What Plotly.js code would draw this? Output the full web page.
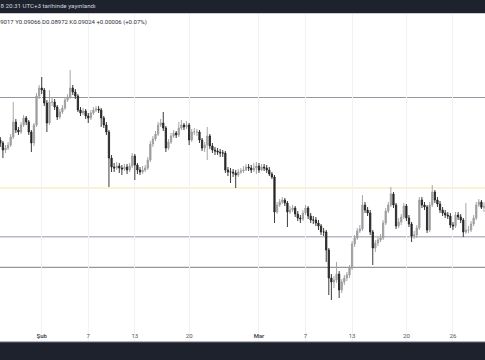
<!DOCTYPE html>
<html><head><meta charset="utf-8">
<script src="https://cdn.plot.ly/plotly-3.0.1.min.js"></script>
<style>html,body{margin:0;padding:0;background:#fff;}#chart{width:485px;height:360px;}</style>
</head><body><div id="chart"></div>
<script>
// 8-hour candles, first candle 2018-01-26 16:00
const firstCandleUTC = Date.UTC(2018, 0, 26, 16);
const candleHours = 8;

const open = [
0.0969,0.0966,0.0959,0.0961,0.0964,0.0972,0.0987,0.0979,0.0977,0.0984,
0.0991,0.0987,0.0977,0.0966,0.0984,0.1013,0.1021,0.1019,0.1006,0.0986,
0.1007,0.1007,0.1002,0.0992,0.0997,0.1001,0.1009,0.1012,0.1021,0.1017,
0.1013,0.0999,0.0996,0.0998,0.0993,0.0991,0.0996,0.0999,0.1000,0.0999,
0.0991,0.0984,0.0977,0.0951,0.0942,0.0941,0.0943,0.0941,0.0940,0.0942,
0.0939,0.0943,0.0953,0.0944,0.0939,0.0937,0.0939,0.0941,0.0949,0.0965,
0.0970,0.0975,0.0984,0.0986,0.0981,0.0961,0.0967,0.0973,0.0976,0.0974,
0.0981,0.0984,0.0982,0.0984,0.0969,0.0977,0.0977,0.0977,0.0969,0.0961,
0.0964,0.0973,0.0963,0.0959,0.0958,0.0957,0.0956,0.0956,0.0939,0.0937,
0.0937,0.0936,0.0934,0.0937,0.0938,0.0939,0.0942,0.0941,0.0939,0.0941,
0.0943,0.0939,0.0942,0.0941,0.0939,0.0935,0.0932,0.0897,0.0904,0.0907,
0.0909,0.0906,0.0897,0.0899,0.0901,0.0895,0.0891,0.0890,0.0896,0.0901,
0.0893,0.0889,0.0889,0.0886,0.0883,0.0877,0.0877,0.0859,0.0831,0.0827,
0.0829,0.0835,0.0819,0.0827,0.0831,0.0834,0.0841,0.0865,0.0871,0.0878,
0.0880,0.0904,0.0899,0.0896,0.0877,0.0861,0.0866,0.0869,0.0871,0.0886,
0.0898,0.0904,0.0915,0.0904,0.0883,0.0887,0.0892,0.0903,0.0891,0.0885,
0.0873,0.0874,0.0881,0.0909,0.0904,0.0902,0.0879,0.0904,0.0917,0.0909,
0.0905,0.0899,0.0896,0.0894,0.0893,0.0884,0.0883,0.0894,0.0892,0.0889,
0.0877,0.0879,0.0879,0.0885,0.0891,0.0904,0.0907,0.09017];

const high = [
0.0972,0.0968,0.0964,0.0967,0.0975,0.1007,0.0990,0.0982,0.0987,0.0994,
0.0993,0.0989,0.0979,0.0986,0.1016,0.1024,0.1032,0.1021,0.1009,0.1019,
0.1011,0.1010,0.1004,0.1000,0.1004,0.1012,0.1015,0.1039,0.1024,0.1020,
0.1015,0.1002,0.1001,0.1000,0.0996,0.0999,0.1002,0.1003,0.1003,0.1001,
0.0993,0.0987,0.0979,0.0954,0.0946,0.0947,0.0946,0.0944,0.0945,0.0945,
0.0946,0.0956,0.0955,0.0946,0.0942,0.0943,0.0944,0.0952,0.0968,0.0973,
0.0978,0.0987,0.0990,0.0997,0.0983,0.0970,0.0976,0.0979,0.0978,0.0987,
0.0989,0.0986,0.0988,0.0986,0.0980,0.0981,0.0980,0.0979,0.0971,0.0967,
0.0982,0.0975,0.0966,0.0962,0.0961,0.0960,0.0959,0.0958,0.0942,0.0941,
0.0940,0.0939,0.0940,0.0941,0.0943,0.0945,0.0945,0.0944,0.0946,0.0947,
0.0946,0.0945,0.0945,0.0944,0.0942,0.0937,0.0934,0.0907,0.0910,0.0912,
0.0911,0.0908,0.0903,0.0904,0.0903,0.0898,0.0894,0.0899,0.0904,0.0903,
0.0896,0.0893,0.0892,0.0889,0.0885,0.0881,0.0879,0.0861,0.0835,0.0833,
0.0847,0.0838,0.0830,0.0834,0.0837,0.0844,0.0868,0.0874,0.0881,0.0884,
0.0914,0.0907,0.0902,0.0899,0.0879,0.0869,0.0872,0.0875,0.0889,0.0901,
0.0907,0.0922,0.0917,0.0906,0.0891,0.0895,0.0906,0.0905,0.0894,0.0887,
0.0878,0.0884,0.0912,0.0912,0.0907,0.0904,0.0907,0.0924,0.0919,0.0912,
0.0908,0.0902,0.0899,0.0897,0.0896,0.0887,0.0897,0.0897,0.0895,0.0891,
0.0906,0.0883,0.0888,0.0894,0.0907,0.0910,0.0909,0.09066];

const low = [
0.0962,0.0951,0.0956,0.0959,0.0962,0.0970,0.0976,0.0974,0.0975,0.0982,
0.0984,0.0974,0.0957,0.0963,0.0982,0.1010,0.1015,0.1003,0.0977,0.0984,
0.1003,0.0999,0.0989,0.0990,0.0995,0.0999,0.1007,0.1010,0.1014,0.1010,
0.0997,0.0993,0.0994,0.0990,0.0986,0.0989,0.0994,0.0997,0.0996,0.0982,
0.0981,0.0974,0.0922,0.0937,0.0937,0.0939,0.0936,0.0934,0.0938,0.0935,
0.0937,0.0941,0.0929,0.0935,0.0934,0.0935,0.0937,0.0939,0.0947,0.0962,
0.0968,0.0973,0.0982,0.0978,0.0957,0.0959,0.0965,0.0971,0.0971,0.0972,
0.0979,0.0979,0.0980,0.0964,0.0967,0.0974,0.0973,0.0966,0.0958,0.0957,
0.0949,0.0960,0.0956,0.0954,0.0954,0.0952,0.0952,0.0936,0.0933,0.0926,
0.0932,0.0921,0.0932,0.0935,0.0936,0.0938,0.0938,0.0936,0.0937,0.0935,
0.0936,0.0938,0.0938,0.0936,0.0933,0.0930,0.0886,0.0895,0.0902,0.0905,
0.0903,0.0882,0.0895,0.0897,0.0892,0.0888,0.0886,0.0888,0.0894,0.0890,
0.0886,0.0885,0.0883,0.0879,0.0874,0.0873,0.0847,0.0814,0.0809,0.0821,
0.0826,0.0811,0.0816,0.0824,0.0828,0.0831,0.0839,0.0862,0.0869,0.0876,
0.0878,0.0896,0.0893,0.0874,0.0844,0.0857,0.0863,0.0867,0.0869,0.0884,
0.0896,0.0902,0.0901,0.0880,0.0881,0.0884,0.0890,0.0888,0.0882,0.0867,
0.0870,0.0871,0.0879,0.0901,0.0899,0.0876,0.0877,0.0902,0.0906,0.0902,
0.0896,0.0893,0.0891,0.0890,0.0881,0.0879,0.0881,0.0889,0.0886,0.0872,
0.0875,0.0876,0.0877,0.0883,0.0889,0.0902,0.0900,0.08972];

const close = [
0.0966,0.0959,0.0961,0.0964,0.0972,0.0987,0.0979,0.0977,0.0984,0.0991,
0.0987,0.0977,0.0966,0.0984,0.1013,0.1021,0.1019,0.1006,0.0986,0.1007,
0.1007,0.1002,0.0992,0.0997,0.1001,0.1009,0.1012,0.1021,0.1017,0.1013,
0.0999,0.0996,0.0998,0.0993,0.0991,0.0996,0.0999,0.1000,0.0999,0.0991,
0.0984,0.0977,0.0951,0.0942,0.0941,0.0943,0.0941,0.0940,0.0942,0.0939,
0.0943,0.0953,0.0944,0.0939,0.0937,0.0939,0.0941,0.0949,0.0965,0.0970,
0.0975,0.0984,0.0986,0.0981,0.0961,0.0967,0.0973,0.0976,0.0974,0.0981,
0.0984,0.0982,0.0984,0.0969,0.0977,0.0977,0.0977,0.0969,0.0961,0.0964,
0.0973,0.0963,0.0959,0.0958,0.0957,0.0956,0.0956,0.0939,0.0937,0.0937,
0.0936,0.0934,0.0937,0.0938,0.0939,0.0942,0.0941,0.0939,0.0941,0.0943,
0.0939,0.0942,0.0941,0.0939,0.0935,0.0932,0.0897,0.0904,0.0907,0.0909,
0.0906,0.0897,0.0899,0.0901,0.0895,0.0891,0.0890,0.0896,0.0901,0.0893,
0.0889,0.0889,0.0886,0.0883,0.0877,0.0877,0.0859,0.0831,0.0827,0.0829,
0.0835,0.0819,0.0827,0.0831,0.0834,0.0841,0.0865,0.0871,0.0878,0.0880,
0.0904,0.0899,0.0896,0.0877,0.0861,0.0866,0.0869,0.0871,0.0886,0.0898,
0.0904,0.0915,0.0904,0.0883,0.0887,0.0892,0.0903,0.0891,0.0885,0.0873,
0.0874,0.0881,0.0909,0.0904,0.0902,0.0879,0.0904,0.0917,0.0909,0.0905,
0.0899,0.0896,0.0894,0.0893,0.0884,0.0883,0.0894,0.0892,0.0889,0.0877,
0.0879,0.0879,0.0885,0.0891,0.0904,0.0907,0.09018,0.09024];

// horizontal levels drawn on the chart (resistance/support)
const levels = [0.10115, 0.0921, 0.08723, 0.08417];
const levelColors = ['#9598a1', '#f5e6a3', '#b8bbc3', '#7b7e88'];
const levelWidths = [1, 1, 1.4, 1];

const tickDates = ['2018-02-01','2018-02-07','2018-02-13','2018-02-20','2018-03-01','2018-03-07','2018-03-13','2018-03-20','2018-03-26'];
const tickLabels = ['Şub','7','13','20','Mar','7','13','20','26'];
const monthLabels = ['Şub','Mar'];

const publishedText = '2018 20:31 UTC+3 tarihinde yayınlandı';

const dates = close.map((_, i) => new Date(firstCandleUTC + i * candleHours * 3600e3)
  .toISOString().slice(0, 19).replace('T', ' '));

const n = close.length - 1;
const chg = close[n] - close[n - 1];
const sign = chg >= 0 ? '+' : '';
const legendText = 'A' + open[n].toFixed(5) + ' Y' + high[n].toFixed(5) + ' D' + low[n].toFixed(5) +
  ' K' + close[n].toFixed(5) + ' ' + sign + chg.toFixed(5) + ' (' + sign + (chg / close[n - 1] * 100).toFixed(2) + '%)';

const W = 485, H = 360, T = 13, B = 18;
const plotH = H - T - B;

const trace = {
  type: 'candlestick', x: dates, open: open, high: high, low: low, close: close,
  increasing: {line: {color: '#9d9d9d', width: 0.9}, fillcolor: '#9d9d9d'},
  decreasing: {line: {color: '#262626', width: 0.9}, fillcolor: '#262626'},
  whiskerwidth: 0, hoverinfo: 'none', showlegend: false
};

const shapes = [];
levels.forEach((v, k) => shapes.push({
  type: 'line', xref: 'paper', yref: 'y', x0: 0, x1: 1, y0: v, y1: v, layer: 'below',
  line: {color: levelColors[k], width: levelWidths[k]}
}));
shapes.push({type: 'rect', xref: 'paper', yref: 'paper', x0: 0, x1: 1, y0: 1, y1: 1 + (T + 5) / plotH,
  fillcolor: '#1e222d', line: {width: 0}, layer: 'above'});
shapes.push({type: 'line', xref: 'paper', yref: 'paper', x0: 0, x1: 1, y0: 1 - 0.5 / plotH, y1: 1 - 0.5 / plotH,
  line: {color: '#c9ccd4', width: 1}, layer: 'above'});
shapes.push({type: 'rect', xref: 'paper', yref: 'paper', x0: 0, x1: 1, y0: -(B + 5) / plotH, y1: 0,
  fillcolor: '#1e222d', line: {width: 0}, layer: 'above'});
shapes.push({type: 'line', xref: 'paper', yref: 'paper', x0: 0, x1: 1, y0: 0, y1: 0,
  line: {color: '#6a6d78', width: 1}, layer: 'above'});

const layout = {
  width: W, height: H,
  margin: {l: 0, r: 0, t: T, b: B, pad: 0},
  paper_bgcolor: '#ffffff', plot_bgcolor: '#ffffff',
  showlegend: false,
  xaxis: {
    type: 'date', range: ['2018-01-26 15:00', '2018-03-30 03:07'],
    rangeslider: {visible: false},
    tickmode: 'array', tickvals: tickDates,
    ticktext: tickLabels.map(t => monthLabels.includes(t) ? '<b>' + t + '</b>' : t),
    ticklabelposition: 'inside', ticks: '',
    tickfont: {family: 'Roboto, sans-serif', size: 6, color: '#50535e'},
    showgrid: true, gridcolor: '#f1f2f5', gridwidth: 1,
    showline: false, zeroline: false, fixedrange: true
  },
  yaxis: {range: [0.0767, 0.1096], visible: false, showgrid: false, zeroline: false, fixedrange: true},
  shapes: shapes,
  annotations: [
    {xref: 'paper', yref: 'paper', x: -12 / W, y: 1 + (T - 6.5) / plotH, xanchor: 'left', yanchor: 'middle',
     text: publishedText, showarrow: false, font: {family: 'Roboto, sans-serif', size: 6.2, color: '#d1d4dc'}},
    {xref: 'paper', yref: 'paper', x: -14 / W, y: 1 - (21.5 - T) / plotH, xanchor: 'left', yanchor: 'middle',
     text: legendText, showarrow: false, font: {family: 'Roboto, sans-serif', size: 6, color: '#2a2e39'}}
  ]
};

Plotly.newPlot('chart', [trace], layout, {staticPlot: true, displayModeBar: false});
</script>
</body></html>
